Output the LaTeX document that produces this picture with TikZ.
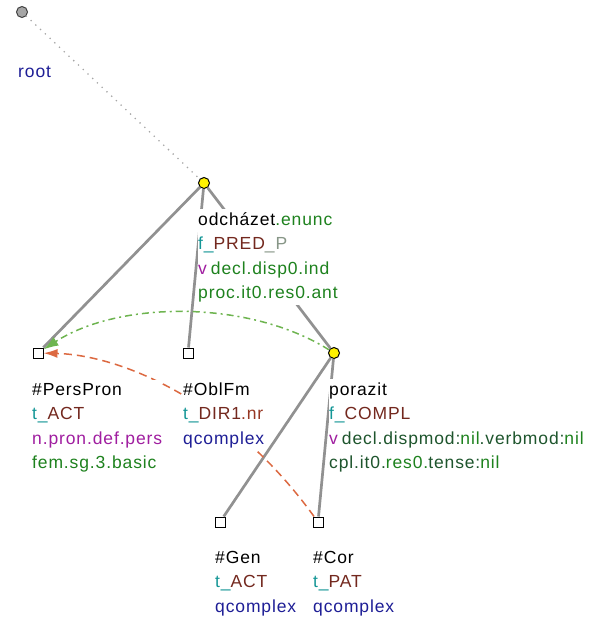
\documentclass[tikz,border=0pt]{standalone}
\usepackage{fontspec}
\setmainfont{Liberation Sans}[LetterSpace=5]
\usepackage{xcolor}
\definecolor{ColTeal}{RGB}{20,150,150}
\definecolor{ColBrown}{RGB}{115,40,30}
\definecolor{ColGreen}{RGB}{30,130,30}
\definecolor{ColDkGreen}{RGB}{30,85,45}
\definecolor{ColPale}{RGB}{135,150,135}
\definecolor{ColPurple}{RGB}{160,30,160}
\definecolor{ColBlue}{RGB}{30,30,150}
\definecolor{ColRed}{RGB}{150,55,35}
\definecolor{ColEdge}{RGB}{145,145,145}
\definecolor{ColCorG}{RGB}{110,180,80}
\definecolor{ColCorR}{RGB}{220,105,65}
\usepackage{tikz}
\usetikzlibrary{arrows.meta}
\tikzstyle{Node}=[circle,draw=black,fill=yellow,inner sep=0pt,
minimum size=11pt,line width=1pt]
\tikzstyle{Leaf}=[rectangle,draw=black,fill=white,inner sep=0pt,
minimum size=10pt,line width=1pt]
\tikzstyle{Top}=[circle,draw=black!75,fill=black!35,inner sep=0pt,
minimum size=11pt,line width=1pt]
\tikzstyle{Edge}=[draw=ColEdge,line width=2.7pt]
\tikzstyle{EdgeRoot}=[draw=black!35,line width=1.8pt,line cap=round,
dash pattern=on 0pt off 6.5pt]
\tikzstyle{Label}=[anchor=base west,fill=white,inner xsep=0pt,inner ysep=3pt,
align=left,font=\fontsize{17.5}{24.5}\selectfont]
\tikzstyle{CorGram}=[draw=ColCorG,line width=1.5pt,
dash pattern=on 7pt off 4pt on 2pt off 4pt,-{Latex[length=15pt,width=10pt]}]
\tikzstyle{CorText}=[draw=ColCorR,line width=1.5pt,
dash pattern=on 8pt off 5pt,-{Latex[length=14pt,width=9pt]}]
\newcommand{\Fn}[2]{\textcolor{ColTeal}{#1\_}\textcolor{ColBrown}{#2}}
\newcommand{\Vf}{\textcolor{ColPurple}{v}\hspace{4pt}}

\begin{document}
\begin{tikzpicture}[x=1pt,y=-1pt]
    \useasboundingbox(0,0)rectangle(599,621);
        \node[Top](root)at(22,12){};
        \node[Node](odchazet)at(204,183){};
        \node[Leaf](perspron)at(38,353){};
        \node[Leaf](oblfm)at(188,353){};
        \node[Node](porazit)at(334,353){};
        \node[Leaf](gen)at(220,522){};
        \node[Leaf](cor)at(318,522){};
        \draw[EdgeRoot](root)--(odchazet);
        \draw[Edge](odchazet)--(perspron);
        \draw[Edge](odchazet)--(oblfm);
        \draw[Edge](odchazet)--(porazit);
        \draw[Edge](porazit)--(gen);
        \draw[Edge](porazit)--(cor);
        \draw[CorGram](porazit)..controls(250,300)and(120,300)..(perspron);
        \draw[CorText](cor)..controls(230,400)and(120,355)..(perspron);
        % labels sit on the baseline of their last line
        \node[Label](lroot)at(18,77){\textcolor{ColBlue}{root}};
        \node[Label](lodchazet)at(198,298.5){odcházet\textcolor{ColGreen}{.enunc}\\
            \Fn{f}{PRED}\textcolor{ColPale}{\_P}\\
            \Vf\textcolor{ColGreen}{decl.disp0.ind}\\
            \textcolor{ColGreen}{proc.it0.res0.ant}};
        \node[Label](lperspron)at(32,468.5){\#PersPron\\
            \Fn{t}{ACT}\\
            \textcolor{ColPurple}{n.pron.def.pers}\\
            \textcolor{ColGreen}{fem.sg.3.basic}};
        \node[Label](loblfm)at(183,444){\#OblFm\\
            \Fn{t}{DIR1}\textcolor{ColRed}{.nr}\\
            \textcolor{ColBlue}{qcomplex}};
        \node[Label](lporazit)at(329,468.5){porazit\\
            \Fn{f}{COMPL}\\
            \Vf\textcolor{ColDkGreen}{decl.dispmod:}%
            \textcolor{ColGreen}{nil}\textcolor{ColDkGreen}{.verbmod:}%
            \textcolor{ColGreen}{nil}\\
            \textcolor{ColDkGreen}{cpl.it0.}\textcolor{ColGreen}{res0.}%
            \textcolor{ColDkGreen}{tense:}\textcolor{ColGreen}{nil}};
        \node[Label](lgen)at(215,612){\#Gen\\
            \Fn{t}{ACT}\\
            \textcolor{ColBlue}{qcomplex}};
        \node[Label](lcor)at(313,612){\#Cor\\
            \Fn{t}{PAT}\\
            \textcolor{ColBlue}{qcomplex}};
    \end{tikzpicture}
\end{document}
